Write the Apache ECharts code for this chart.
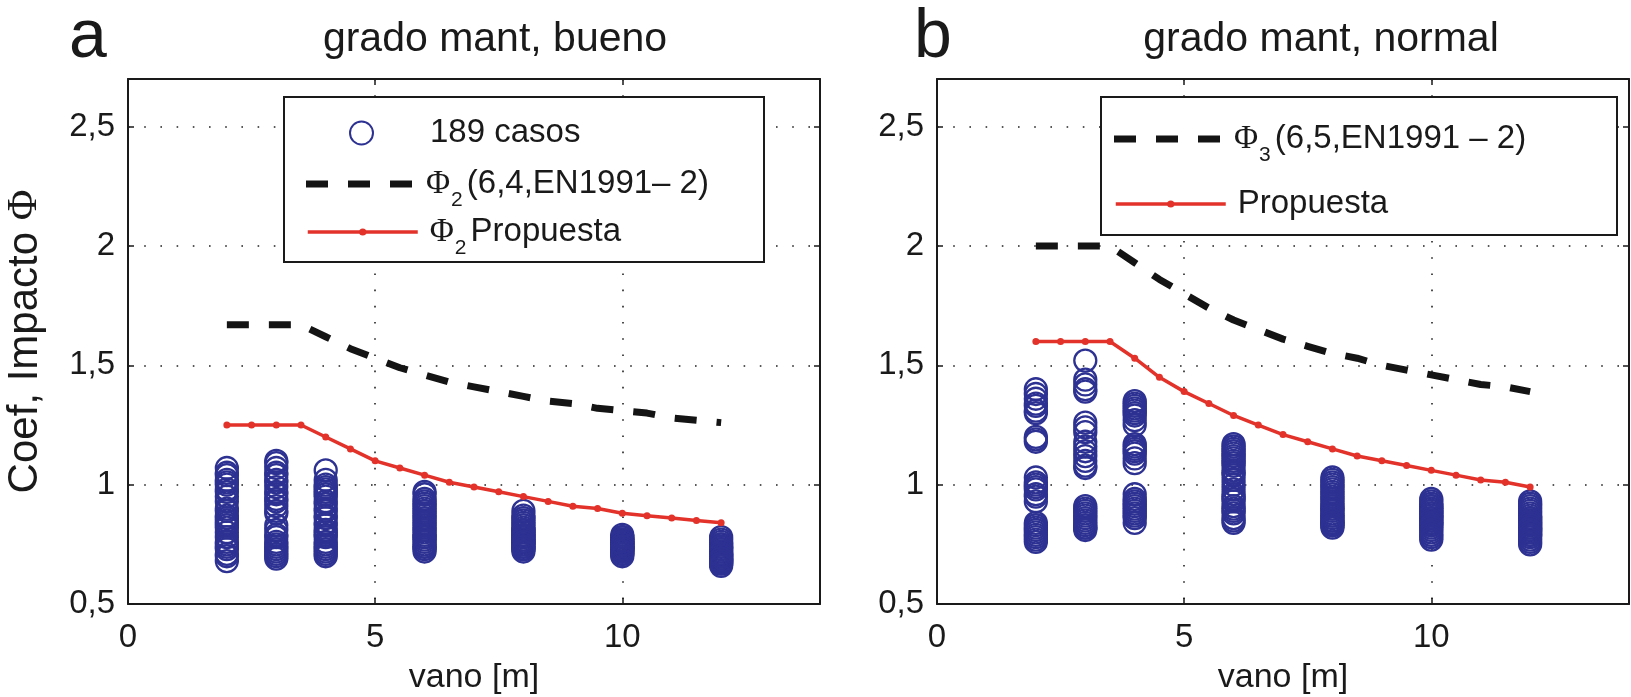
<!DOCTYPE html>
<html><head><meta charset="utf-8">
<script src="https://cdn.jsdelivr.net/npm/echarts/dist/echarts.min.js"></script>
<style>html,body{margin:0;padding:0;background:#fff}#c{width:1631px;height:697px}</style>
</head><body><div id="c"></div><script>
// ---------- data ----------
const xLine = [2, 2.5, 3, 3.5, 4, 4.5, 5, 5.5, 6, 6.5, 7, 7.5, 8, 8.5, 9, 9.5, 10, 10.5, 11, 11.5, 12];
const phi2EN   = [1.67, 1.67, 1.67, 1.67, 1.62, 1.57, 1.53, 1.49, 1.46, 1.43, 1.41, 1.39, 1.37, 1.35, 1.34, 1.32, 1.31, 1.30, 1.28, 1.27, 1.26];
const phi2Prop = [1.25, 1.25, 1.25, 1.25, 1.20, 1.15, 1.10, 1.07, 1.04, 1.01, 0.99, 0.97, 0.95, 0.93, 0.91, 0.90, 0.88, 0.87, 0.86, 0.85, 0.84];
const phi3EN   = [2.00, 2.00, 2.00, 2.00, 1.93, 1.86, 1.80, 1.74, 1.69, 1.65, 1.61, 1.58, 1.55, 1.53, 1.50, 1.48, 1.46, 1.44, 1.42, 1.41, 1.39];
const propB    = [1.60, 1.60, 1.60, 1.60, 1.53, 1.45, 1.39, 1.34, 1.29, 1.25, 1.21, 1.18, 1.15, 1.12, 1.10, 1.08, 1.06, 1.04, 1.02, 1.01, 0.99];
const casosX = [2, 3, 4, 6, 8, 10, 12];
const casosA = [
  [1.07,1.05,1.04,1.02,1.01,1.00,0.98,0.97,0.95,0.93,0.90,0.89,0.87,0.86,0.85,0.84,0.83,0.82,0.80,0.78,0.76,0.75,0.74,0.73,0.71,0.70,0.68],
  [1.10,1.09,1.07,1.05,1.04,1.02,1.01,0.99,0.97,0.96,0.94,0.93,0.91,0.89,0.88,0.83,0.81,0.79,0.78,0.76,0.75,0.74,0.73,0.72,0.71,0.70,0.69],
  [1.06,1.02,1.00,0.99,0.98,0.97,0.96,0.95,0.93,0.92,0.90,0.89,0.87,0.86,0.84,0.83,0.81,0.80,0.79,0.78,0.76,0.75,0.74,0.73,0.72,0.71,0.70],
  [0.97,0.96,0.94,0.93,0.92,0.91,0.90,0.89,0.88,0.87,0.86,0.85,0.84,0.83,0.82,0.81,0.80,0.79,0.78,0.78,0.77,0.76,0.75,0.74,0.74,0.73,0.72],
  [0.89,0.87,0.86,0.85,0.84,0.83,0.82,0.81,0.81,0.80,0.80,0.79,0.79,0.78,0.78,0.77,0.77,0.76,0.76,0.76,0.75,0.75,0.74,0.74,0.73,0.73,0.72],
  [0.79,0.78,0.78,0.77,0.77,0.77,0.76,0.76,0.76,0.75,0.75,0.75,0.75,0.74,0.74,0.74,0.74,0.73,0.73,0.73,0.73,0.72,0.72,0.72,0.71,0.71,0.70],
  [0.78,0.77,0.76,0.75,0.75,0.74,0.74,0.73,0.73,0.72,0.72,0.71,0.71,0.71,0.70,0.70,0.70,0.69,0.69,0.69,0.68,0.68,0.68,0.67,0.67,0.67,0.66]
];
const casosB = [
  [1.40,1.38,1.36,1.34,1.33,1.31,1.30,1.20,1.19,1.18,1.03,1.01,1.00,0.99,0.98,0.96,0.95,0.93,0.84,0.83,0.82,0.81,0.80,0.79,0.78,0.77,0.76],
  [1.52,1.44,1.42,1.40,1.39,1.26,1.24,1.22,1.18,1.16,1.14,1.12,1.10,1.08,1.07,0.91,0.90,0.89,0.88,0.87,0.86,0.85,0.84,0.83,0.82,0.82,0.81],
  [1.35,1.34,1.33,1.32,1.31,1.30,1.29,1.27,1.25,1.17,1.16,1.15,1.14,1.13,1.11,1.09,0.96,0.94,0.93,0.92,0.91,0.90,0.89,0.88,0.87,0.86,0.84],
  [1.17,1.16,1.15,1.14,1.13,1.12,1.11,1.10,1.09,1.08,1.06,1.05,1.04,1.02,1.00,0.98,0.96,0.95,0.94,0.93,0.91,0.90,0.89,0.88,0.86,0.85,0.84],
  [1.03,1.02,1.01,1.00,0.99,0.98,0.97,0.96,0.95,0.94,0.93,0.92,0.91,0.90,0.90,0.89,0.88,0.87,0.87,0.86,0.85,0.85,0.84,0.84,0.83,0.83,0.82],
  [0.94,0.93,0.92,0.91,0.91,0.90,0.90,0.89,0.89,0.88,0.88,0.87,0.87,0.86,0.86,0.85,0.85,0.84,0.84,0.83,0.83,0.82,0.81,0.80,0.79,0.78,0.77],
  [0.93,0.92,0.91,0.90,0.89,0.88,0.87,0.86,0.86,0.85,0.85,0.84,0.84,0.83,0.83,0.82,0.82,0.81,0.81,0.80,0.80,0.79,0.79,0.78,0.77,0.76,0.75]
];
const xTickLabels = {0: '0', 5: '5', 10: '10'};
const yTickValues = [0.5, 1, 1.5, 2, 2.5];
const yTickLabels = ['0,5', '1', '1,5', '2', '2,5'];
const panelTitles = ['grado mant, bueno', 'grado mant, normal'];
const panelLetters = ['a', 'b'];
const xName = 'vano [m]';
const yName = 'Coef, Impacto {p|Φ}';
const seriesNames = ['189 casos', 'Φ2 (6,4,EN1991– 2)', 'Φ2 Propuesta', 'Φ3 (6,5,EN1991 – 2)', 'Propuesta'];
const legendRich = {
  '189 casos': '189 casos',
  'Φ2 (6,4,EN1991– 2)': '{p|Φ}{s|2}(6,4,EN1991– 2)',
  'Φ2 Propuesta': '{p|Φ}{s|2}Propuesta',
  'Φ3 (6,5,EN1991 – 2)': '{p|Φ}{s|3}(6,5,EN1991 – 2)',
  'Propuesta': 'Propuesta'
};

// ---------- style ----------
const FONT = '"Liberation Sans", Arial, Helvetica, sans-serif';
const SERIF = '"Liberation Serif", "Times New Roman", serif';
const INK = '#1a1a1a';
const BLUE = '#2d3192';
const RED = '#e2322a';
const BLACK = '#141414';
const TICK_FS = 33;
const LEG_FS = 33;
const DASH_ICON = 'path://M0,0h22v7h-22z M42,0h22v7h-22z M84,0h22v7h-22z';
const grids = [
  {left: 128, top: 79, width: 692, height: 525},
  {left: 937, top: 79, width: 692, height: 525}
];

function xAxes(gi) {
  const common = {
    type: 'value', gridIndex: gi, min: 0, max: 14, interval: 5,
    axisLine: {show: true, onZero: false, lineStyle: {color: INK, width: 2}},
    axisTick: {show: true, inside: true, length: 6, lineStyle: {color: INK, width: 1.5}}
  };
  return [
    Object.assign({}, common, {
      position: 'bottom',
      axisLabel: {formatter: v => (xTickLabels[v] !== undefined ? xTickLabels[v] : ''), fontSize: TICK_FS, color: INK, fontFamily: FONT, margin: 17},
      splitLine: {show: true, lineStyle: {color: '#222', width: 1.6, type: [1.6, 14.6]}},
      name: xName, nameLocation: 'middle', nameGap: 57,
      nameTextStyle: {fontSize: 34, color: INK, fontFamily: FONT}
    }),
    Object.assign({}, common, {
      position: 'top', axisLabel: {show: false}, splitLine: {show: false}
    })
  ];
}
function yLabel(v) {
  for (let i = 0; i < yTickValues.length; i++) {
    if (Math.abs(v - yTickValues[i]) < 1e-6) return yTickLabels[i];
  }
  return '';
}
function yAxes(gi, withName) {
  const common = {
    type: 'value', gridIndex: gi, min: 0.5, max: 2.7, interval: 0.5,
    axisLine: {show: true, onZero: false, lineStyle: {color: INK, width: 2}},
    axisTick: {show: true, inside: true, length: 6, lineStyle: {color: INK, width: 1.5}}
  };
  const left = Object.assign({}, common, {
    position: 'left',
    axisLabel: {formatter: yLabel, fontSize: TICK_FS, color: INK, fontFamily: FONT, margin: 13, showMaxLabel: false},
    splitLine: {show: true, lineStyle: {color: '#222', width: 1.6, type: [1.6, 14.6]}}
  });
  if (withName) {
    Object.assign(left, {
      name: yName, nameLocation: 'middle', nameGap: 82, nameRotate: 90,
      nameTextStyle: {fontSize: 42, color: INK, fontFamily: FONT, rich: {p: {fontSize: 42, fontFamily: SERIF, color: INK}}}
    });
  }
  return [left, Object.assign({}, common, {position: 'right', axisLabel: {show: false}, splitLine: {show: false}})];
}

function scatterSeries(name, axisIdx, cols) {
  const data = [];
  casosX.forEach((x, i) => cols[i].forEach(v => data.push([x, v])));
  return {
    type: 'scatter', name, xAxisIndex: axisIdx, yAxisIndex: axisIdx, data,
    symbol: 'circle', symbolSize: 22,
    itemStyle: {color: 'rgba(0,0,0,0)', borderColor: BLUE, borderWidth: 2.3, opacity: 1},
    emphasis: {disabled: true}, z: 2
  };
}
function dashedSeries(name, axisIdx, vals) {
  return {
    type: 'line', name, xAxisIndex: axisIdx, yAxisIndex: axisIdx,
    data: xLine.map((x, i) => [x, vals[i]]),
    symbol: 'none', itemStyle: {color: BLACK},
    lineStyle: {color: BLACK, width: 7, type: [22, 20], cap: 'butt'},
    emphasis: {disabled: true}, z: 3
  };
}
function redSeries(name, axisIdx, vals) {
  return {
    type: 'line', name, xAxisIndex: axisIdx, yAxisIndex: axisIdx,
    data: xLine.map((x, i) => [x, vals[i]]),
    symbol: 'circle', symbolSize: 7, showSymbol: true, showAllSymbol: true,
    itemStyle: {color: RED}, lineStyle: {color: RED, width: 3.5},
    emphasis: {disabled: true}, z: 4
  };
}

// one legend component per row, so each row gets its own sample geometry
function legendRow(name, opts) {
  const lh = 36;
  const row = {
    data: [opts.icon ? {name: name, icon: opts.icon} : name],
    left: opts.left, top: opts.cy - lh / 2, orient: 'horizontal',
    padding: 0, itemGap: 0, itemWidth: opts.w, itemHeight: opts.h,
    selectedMode: false, z: 12,
    formatter: n => legendRich[n],
    textStyle: {
      fontSize: LEG_FS, fontFamily: FONT, color: INK, lineHeight: lh, padding: [0, 0, 0, opts.pad],
      rich: {
        p: {fontSize: LEG_FS, fontFamily: SERIF, color: INK, lineHeight: lh},
        s: {fontSize: 21, fontFamily: FONT, color: INK, lineHeight: 21, verticalAlign: 'top', padding: [24, 4, 0, 1]}
      }
    }
  };
  if (opts.lineStyle) row.lineStyle = opts.lineStyle;
  return row;
}

const graphics = [
  {type: 'rect', shape: {x: 284, y: 97, width: 480, height: 165}, style: {fill: '#fff', stroke: INK, lineWidth: 2}, z: 10},
  {type: 'rect', shape: {x: 1101, y: 97, width: 516, height: 138}, style: {fill: '#fff', stroke: INK, lineWidth: 2}, z: 10},
  {type: 'text', x: 495, y: 40, style: {text: panelTitles[0], fontSize: 41, fontFamily: FONT, fill: INK, align: 'center', verticalAlign: 'middle'}, z: 10},
  {type: 'text', x: 1321, y: 40, style: {text: panelTitles[1], fontSize: 41, fontFamily: FONT, fill: INK, align: 'center', verticalAlign: 'middle'}, z: 10},
  {type: 'text', x: 88, y: 38, style: {text: panelLetters[0], fontSize: 68, fontFamily: FONT, fill: INK, align: 'center', verticalAlign: 'middle'}, z: 10},
  {type: 'text', x: 933, y: 38, style: {text: panelLetters[1], fontSize: 68, fontFamily: FONT, fill: INK, align: 'center', verticalAlign: 'middle'}, z: 10}
];

const option = {
  animation: false,
  backgroundColor: '#fff',
  grid: grids.map(g => Object.assign({containLabel: false, outerBoundsMode: 'none', show: false}, g)),
  xAxis: [...xAxes(0), ...xAxes(1)],
  yAxis: [...yAxes(0, true), ...yAxes(1, false)],
  legend: [
    legendRow(seriesNames[0], {left: 349, cy: 133, w: 23, h: 23, pad: 52}),
    legendRow(seriesNames[1], {left: 306, cy: 184, w: 110, h: 7, pad: 7, icon: DASH_ICON}),
    legendRow(seriesNames[2], {left: 306, cy: 232, w: 110, h: 9, pad: 7, lineStyle: {width: 3.5, color: RED}}),
    legendRow(seriesNames[3], {left: 1114, cy: 139, w: 110, h: 7, pad: 7, icon: DASH_ICON}),
    legendRow(seriesNames[4], {left: 1114, cy: 204, w: 110, h: 9, pad: 7, lineStyle: {width: 3.5, color: RED}})
  ],
  graphic: graphics,
  series: [
    scatterSeries(seriesNames[0], 0, casosA),
    dashedSeries(seriesNames[1], 0, phi2EN),
    redSeries(seriesNames[2], 0, phi2Prop),
    scatterSeries('189 casos (b)', 2, casosB),
    dashedSeries(seriesNames[3], 2, phi3EN),
    redSeries(seriesNames[4], 2, propB)
  ]
};
const chart = echarts.init(document.getElementById('c'), null, {renderer: 'canvas'});
chart.setOption(option);
</script></body></html>
